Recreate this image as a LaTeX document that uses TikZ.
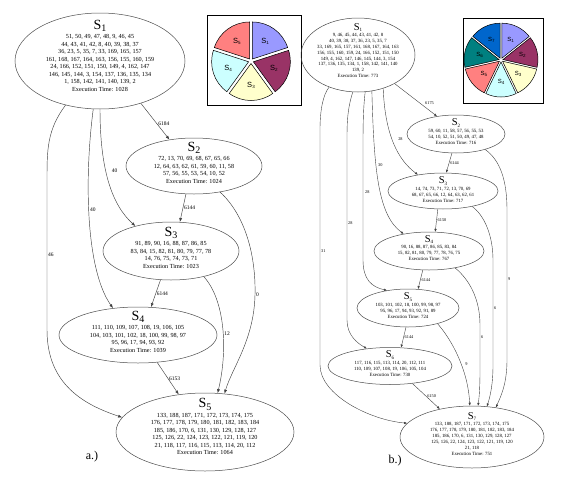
\documentclass[tikz,border=0pt]{standalone}
\usepackage{fontspec}
\setmainfont{Liberation Serif}
\newfontfamily\piefont{Liberation Sans}
\usetikzlibrary{shapes.geometric,arrows.meta}

\definecolor{pc1}{HTML}{9999FF}
\definecolor{pc2}{HTML}{993366}
\definecolor{pc3}{HTML}{FFFFCC}
\definecolor{pc4}{HTML}{CCFFFF}
\definecolor{pc5}{HTML}{FF8080}
\definecolor{pc6}{HTML}{008080}
\definecolor{pc7}{HTML}{0066CC}

\newcommand\stA[1]{{\fontsize{14}{14}\selectfont S\raisebox{-2.5pt}{\fontsize{10}{10}\selectfont #1}}}
\newcommand\stB[1]{{\fontsize{10.5}{10.5}\selectfont S\raisebox{-1.5pt}{\fontsize{5}{5}\selectfont #1}}}
\newcommand\pieS[1]{S\raisebox{-1pt}{\fontsize{4.5}{4.5}\selectfont #1}}

\tikzset{
    stage/.style={draw=black!70, ellipse, inner sep=0pt, line width=.5pt},
    txta/.style={align=center, inner sep=0pt, font=\fontsize{6.2}{7.5}\selectfont},
    txtb/.style={align=center, inner sep=0pt, font=\fontsize{4.8}{5.9}\selectfont},
    dep/.style={draw=black!75, line width=.45pt, -{Latex[length=4pt,width=3pt]}},
    depb/.style={draw=black!75, line width=.4pt, -{Latex[length=3pt,width=2.4pt]}},
    wa/.style={font=\fontsize{5.5}{5.5}\selectfont, inner sep=1pt},
    wb/.style={font=\fontsize{4.3}{4.3}\selectfont, inner sep=1pt},
    pielbla/.style={font=\piefont\fontsize{7.5}{7.5}\selectfont, inner sep=0pt},
    pielblb/.style={font=\piefont\fontsize{6}{6}\selectfont, inner sep=0pt}
}

\begin{document}
\begin{tikzpicture}[x=1pt, y=-1pt]
    \useasboundingbox (0,0) rectangle (568,477);

    % a.) five stages
    \node[stage, minimum width=170pt, minimum height=96pt] (a1) at (100,61) {};
    \node[stage, minimum width=136pt, minimum height=56pt] (a2) at (194,166) {};
    \node[stage, minimum width=136pt, minimum height=58pt] (a3) at (171,251) {};
    \node[stage, minimum width=158pt, minimum height=56pt] (a4) at (138,335) {};
    \node[stage, minimum width=178pt, minimum height=78pt] (a5) at (205,432) {};

    \node[txta] (a1t) at (100,55.5) {\stA{1}\\[2pt]
        51, 50, 49, 47, 48, 9, 46, 45\\
        44, 43, 41, 42, 8, 40, 39, 38, 37\\
        36, 23, 5, 35, 7, 33, 169, 165, 157\\
        161, 168, 167, 164, 163, 156, 155, 160, 159\\
        24, 166, 152, 151, 150, 149, 4, 162, 147\\
        146, 145, 144, 3, 154, 137, 136, 135, 134\\
        1, 158, 142, 141, 140, 139, 2\\
        Execution Time: 1028};
    \node[txta] (a2t) at (194,162.5) {\stA{2}\\[2pt]
        72, 13, 70, 69, 68, 67, 65, 66\\
        12, 64, 63, 62, 61, 59, 60, 11, 58\\
        57, 56, 55, 53, 54, 10, 52\\
        Execution Time: 1024};
    \node[txta] (a3t) at (171,247.5) {\stA{3}\\[2pt]
        91, 89, 90, 16, 88, 87, 86, 85\\
        83, 84, 15, 82, 81, 80, 79, 77, 78\\
        14, 76, 75, 74, 73, 71\\
        Execution Time: 1023};
    \node[txta] (a4t) at (138,331.5) {\stA{4}\\[2pt]
        111, 110, 109, 107, 108, 19, 106, 105\\
        104, 103, 101, 102, 18, 100, 99, 98, 97\\
        95, 96, 17, 94, 93, 92\\
        Execution Time: 1039};
    \node[txta] (a5t) at (205,426.5) {\stA{5}\\[2pt]
        133, 188, 187, 171, 172, 173, 174, 175\\
        176, 177, 178, 179, 180, 181, 182, 183, 184\\
        185, 186, 170, 6, 131, 130, 129, 128, 127\\
        125, 126, 22, 124, 123, 122, 121, 119, 120\\
        21, 118, 117, 116, 115, 113, 114, 20, 112\\
        Execution Time: 1064};

    \draw[dep] (a1.-46) -- node[wa, right, pos=.57] {6184} (a2.133);
    \draw[dep] (a1.south) .. controls (100,170) and (112,205) .. node[wa, pos=.4, right=5pt] {40} (a3.145);
    \draw[dep] (a1.262) .. controls (84,180) and (86,270) .. node[wa, pos=.45, right=0pt] {40} (a4.133);
    \draw[dep] (a1.232) .. controls (47,130) and (47,150) .. (47,180) -- node[wa, right=0pt] {46} (47,330)
        .. controls (47,385) and (85,405) .. (a5.170);
    \draw[dep] (a2.254) -- node[wa, right] {6144} (a3.73);
    \draw[dep] (a2.315) .. controls (245,215) and (256,255) .. (255,295) node[wa, right=0pt] {0}
        .. controls (254,340) and (232,368) .. (a5.63);
    \draw[dep] (a3.-38) .. controls (225,300) and (228,350) .. node[wa, pos=.55, right=0pt] {12} (a5.72);
    \draw[dep] (a3.250) -- node[wa, right] {6144} (a4.65);
    \draw[dep] (a4.-55) -- node[wa, right] {6153} (a5.125);

    \node[font=\fontsize{12}{12}\selectfont] (capa) at (92,457) {a.)};

    % a.) pie
    \draw[line width=.6pt] (207,15) rectangle (301,105);
    \begin{scope}[shift={(251,61)}, y=1pt]
        \foreach \s/\e/\c/\i in {90/18/pc1/1, 18/-54/pc2/2, -54/-126/pc3/3, -126/-198/pc4/4, -198/-270/pc5/5} {
            \pgfmathsetmacro\m{(\s+\e)/2}
            \filldraw[fill=\c, draw=black, line width=.5pt, shift={(\m:2.5)}]
                (0,0) -- (\s:37) arc[start angle=\s, end angle=\e, radius=37] -- cycle;
            \node[pielbla] (pa\i) at (\m:24) {\pieS{\i}};
        }
    \end{scope}

    % b.) seven stages
    \node[stage, minimum width=114pt, minimum height=74pt] (b1) at (358,55) {};
    \node[stage, minimum width=98pt, minimum height=38pt] (b2) at (456,134) {};
    \node[stage, minimum width=110pt, minimum height=36pt] (b3) at (443,191) {};
    \node[stage, minimum width=110pt, minimum height=38pt] (b4) at (429,251) {};
    \node[stage, minimum width=102pt, minimum height=38pt] (b5) at (408,308) {};
    \node[stage, minimum width=124pt, minimum height=37pt] (b6) at (390,366) {};
    \node[stage, minimum width=144pt, minimum height=62pt] (b7) at (472,437) {};

    \node[txtb] (b1t) at (358,50.5) {\stB{1}\\[.5pt]
        9, 46, 45, 44, 43, 41, 42, 8\\
        40, 39, 38, 37, 36, 23, 5, 35, 7\\
        33, 169, 165, 157, 161, 168, 167, 164, 163\\
        156, 155, 160, 159, 24, 166, 152, 151, 150\\
        149, 4, 162, 147, 146, 145, 144, 3, 154\\
        137, 136, 135, 134, 1, 158, 142, 141, 140\\
        139, 2\\
        Execution Time: 773};
    \node[txtb] (b2t) at (456,131.5) {\stB{2}\\[.5pt]
        59, 60, 11, 58, 57, 56, 55, 53\\
        54, 10, 52, 51, 50, 49, 47, 48\\
        Execution Time: 716};
    \node[txtb] (b3t) at (443,189.5) {\stB{3}\\[.5pt]
        14, 74, 73, 71, 72, 13, 70, 69\\
        68, 67, 65, 66, 12, 64, 63, 62, 61\\
        Execution Time: 717};
    \node[txtb] (b4t) at (429,248) {\stB{4}\\[.5pt]
        90, 16, 88, 87, 86, 85, 83, 84\\
        15, 82, 81, 80, 79, 77, 78, 76, 75\\
        Execution Time: 767};
    \node[txtb] (b5t) at (408,305.5) {\stB{5}\\[.5pt]
        103, 101, 102, 18, 100, 99, 98, 97\\
        95, 96, 17, 94, 93, 92, 91, 89\\
        Execution Time: 724};
    \node[txtb] (b6t) at (390,363.5) {\stB{6}\\[.5pt]
        117, 116, 115, 113, 114, 20, 112, 111\\
        110, 109, 107, 108, 19, 106, 105, 104\\
        Execution Time: 730};
    \node[txtb] (b7t) at (472,434) {\stB{7}\\[.5pt]
        133, 188, 187, 171, 172, 173, 174, 175\\
        176, 177, 178, 179, 180, 181, 182, 183, 184\\
        185, 186, 170, 6, 131, 130, 129, 128, 127\\
        125, 126, 22, 124, 123, 122, 121, 119, 120\\
        21, 118\\
        Execution Time: 751};

    \draw[depb] (b1.322) -- node[wb, right=4pt, pos=.6] {6175} (b2.137);
    \draw[depb] (b1.307) .. controls (385,135) and (398,160) .. node[wb, pos=.45, right=5pt] {28} (b3.147);
    \draw[depb] (b1.291) .. controls (374,170) and (378,215) .. node[wb, pos=.37, right=1pt] {30} (b4.146);
    \draw[depb] (b1.281) .. controls (363,110) and (363,130) .. (363,150) -- node[wb, pos=.38, right=1pt] {28} (363,260)
        .. controls (363,280) and (372,287) .. (b5.140);
    \draw[depb] (b1.262) .. controls (347,110) and (347,125) .. (347,140) -- node[wb, pos=.46, right=0pt] {28} (347,320)
        .. controls (347,335) and (357,343) .. (b6.143);
    \draw[depb] (b1.228) .. controls (323,95) and (320,110) .. (320,130) -- node[wb, pos=.515, right=0pt] {31} (320,365)
        .. controls (320,395) and (370,420) .. (b7.168);
    \draw[depb] (b2.258) -- node[wb, right] {6144} (b3.80);
    \draw[depb] (b2.332) .. controls (500,160) and (507,180) .. (507,210) -- node[wb, pos=.46, right=0pt] {9} (507,360)
        .. controls (507,385) and (500,398) .. (b7.51);
    \draw[depb] (b3.254) -- node[wb, right] {6150} (b4.72);
    \draw[depb] (b3.332) .. controls (484,215) and (493,235) .. (493,260) -- node[wb, pos=.46, right=0pt] {6} (493,365)
        .. controls (493,385) and (490,397) .. (b7.64);
    \draw[depb] (b4.252) -- node[wb, right] {6144} (b5.62);
    \draw[depb] (b4.327) .. controls (470,280) and (480,300) .. (480,325) -- node[wb, pos=.27, right=0pt] {6} (480,370)
        .. controls (480,390) and (479,398) .. (b7.79);
    \draw[depb] (b5.264) -- node[wb, right] {6144} (b6.59);
    \draw[depb] (b5.332) .. controls (452,340) and (468,370) .. node[wb, pos=.58, right=3pt] {9} (b7.94);
    \draw[depb] (b6.322) -- node[wb, right] {6150} (b7.139);

    \node[font=\fontsize{12}{12}\selectfont] (capb) at (395,461) {b.)};

    % b.) pie
    \draw[line width=.6pt] (463,18) rectangle (543,103);
    \begin{scope}[shift={(501,60)}, y=1pt]
        \foreach \s/\e/\c/\i in {90/38.57/pc1/1, 38.57/-12.86/pc2/2, -12.86/-64.29/pc3/3, -64.29/-115.71/pc4/4,
                -115.71/-167.14/pc5/5, -167.14/-218.57/pc6/6, -218.57/-270/pc7/7} {
            \pgfmathsetmacro\m{(\s+\e)/2}
            \filldraw[fill=\c, draw=black, line width=.5pt, shift={(\m:2)}]
                (0,0) -- (\s:35) arc[start angle=\s, end angle=\e, radius=35] -- cycle;
            \node[pielblb] (pb\i) at (\m:22) {\pieS{\i}};
        }
    \end{scope}
\end{tikzpicture}
\end{document}
